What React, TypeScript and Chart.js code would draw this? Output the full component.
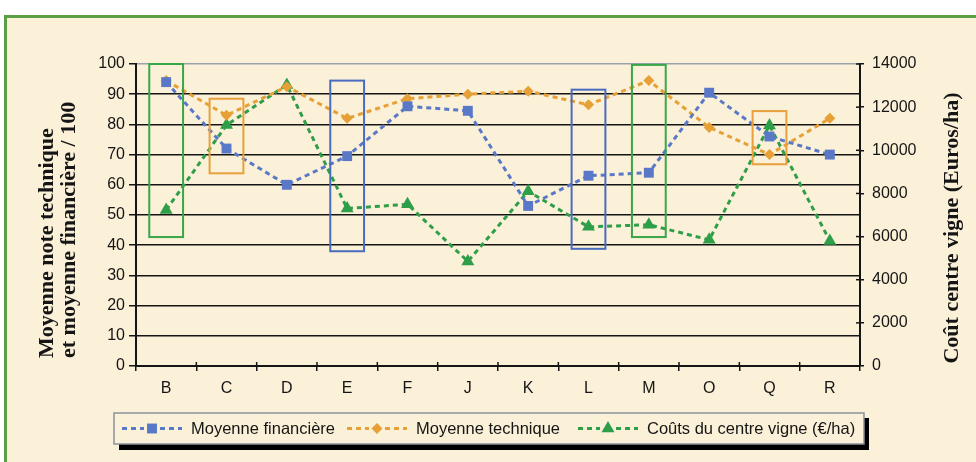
import React, { useEffect, useRef } from 'react';
import { Chart, registerables } from 'chart.js';

Chart.register(...registerables);

const categories = ['B', 'C', 'D', 'E', 'F', 'J', 'K', 'L', 'M', 'O', 'Q', 'R'];
const financiere = [94, 72, 60, 69.5, 86, 84.5, 53, 63, 64, 90.5, 76, 70];
const technique = [94.5, 83, 92.5, 82, 88.5, 90, 91, 86.5, 94.5, 79, 70, 82];
const couts = [7230, 11170, 13030, 7300, 7500, 4850, 8100, 6450, 6550, 5850, 11150, 5800];
const seriesNames = ['Moyenne financière', 'Moyenne technique', 'Coûts du centre vigne (€/ha)'];
const leftTitle = ['Moyenne note technique', 'et moyenne financière / 100'];
const rightTitle = 'Coût centre vigne (Euros/ha)';
const leftMax = 100;
const leftStep = 10;
const rightMax = 14000;
const rightStep = 2000;
// highlighted groups (category, top and bottom on the left scale)
const boxCategories = ['B', 'C', 'E', 'L', 'M', 'Q'];
const boxTop = [100, 88.5, 94.5, 91.5, 99.7, 84.4];
const boxBottom = [42.7, 63.8, 38, 38.8, 42.7, 66.8];

const BLUE = '#5a78c8';
const ORANGE = '#e6a035';
const GREEN = '#2f9e48';
const boxColors = ['#3aa64a', '#e8a03a', '#4a6cc0', '#4a6cc0', '#3aa64a', '#e8a03a'];
const CREAM = '#fbf0d8';
const INK = '#151515';
const SANS = '"Liberation Sans", Arial, sans-serif';
const SERIF = '"Liberation Serif", "Times New Roman", serif';
const legendX = [122, 347, 578];

function drawMarker(ctx: CanvasRenderingContext2D, style: string, r: number, x: number, y: number) {
  ctx.beginPath();
  if (style === 'rect') {
    const s = Math.SQRT1_2 * r;
    ctx.rect(x - s, y - s, 2 * s, 2 * s);
  } else if (style === 'rectRot') {
    ctx.moveTo(x, y - r);
    ctx.lineTo(x + r, y);
    ctx.lineTo(x, y + r);
    ctx.lineTo(x - r, y);
    ctx.closePath();
  } else {
    ctx.moveTo(x, y - r);
    ctx.lineTo(x + r * 0.866, y + r / 2);
    ctx.lineTo(x - r * 0.866, y + r / 2);
    ctx.closePath();
  }
  ctx.fill();
}

const decor = {
  id: 'decor',
  afterDatasetsDraw(chart: any) {
    const { ctx, scales } = chart;
    const x = scales.x;
    const y = scales.y;
    const cw = x.getPixelForValue(1) - x.getPixelForValue(0);
    ctx.save();
    boxCategories.forEach((c, i) => {
      const idx = categories.indexOf(c);
      const cx = x.getPixelForValue(idx);
      const top = y.getPixelForValue(boxTop[i]);
      const bot = y.getPixelForValue(boxBottom[i]);
      ctx.strokeStyle = boxColors[i];
      ctx.lineWidth = 2;
      ctx.strokeRect(cx - cw * 0.28, top, cw * 0.56, bot - top);
    });
    ctx.restore();
  },
  afterDraw(chart: any) {
    const { ctx, scales, chartArea } = chart;
    const x = scales.x;
    const y1 = scales.y1;
    const cw = x.getPixelForValue(1) - x.getPixelForValue(0);
    ctx.save();
    // crossing tick marks
    ctx.strokeStyle = INK;
    ctx.lineWidth = 1.5;
    for (let i = 0; i <= categories.length; i++) {
      const px = x.getPixelForValue(0) - cw / 2 + i * cw;
      ctx.beginPath();
      ctx.moveTo(px, chartArea.bottom - 4);
      ctx.lineTo(px, chartArea.bottom);
      ctx.stroke();
    }
    for (let v = 0; v <= rightMax; v += rightStep) {
      const py = y1.getPixelForValue(v);
      ctx.beginPath();
      ctx.moveTo(chartArea.right - 4, py);
      ctx.lineTo(chartArea.right, py);
      ctx.stroke();
    }
    // axis titles
    ctx.fillStyle = INK;
    ctx.font = 'bold 22px ' + SERIF;
    ctx.textBaseline = 'middle';
    ctx.textAlign = 'left';
    [47, 69].forEach((tx, i) => {
      ctx.save();
      ctx.translate(tx, 358);
      ctx.rotate(-Math.PI / 2);
      ctx.fillText(leftTitle[i], 0, 0);
      ctx.restore();
    });
    ctx.save();
    ctx.translate(952, 228);
    ctx.rotate(-Math.PI / 2);
    ctx.textAlign = 'center';
    ctx.fillText(rightTitle, 0, 0);
    ctx.restore();

    // legend
    const lx = 114, ly = 413, lw = 750, lh = 31;
    ctx.fillStyle = '#000';
    ctx.fillRect(lx + 5, ly + 5, lw, lh + 1);
    ctx.fillStyle = CREAM;
    ctx.fillRect(lx, ly, lw, lh);
    ctx.strokeStyle = '#8c929a';
    ctx.lineWidth = 1.5;
    ctx.strokeRect(lx, ly, lw, lh);
    ctx.font = '16.5px ' + SANS;
    ctx.textAlign = 'left';
    ctx.textBaseline = 'middle';
    const cy = ly + lh / 2;
    chart.data.datasets.forEach((ds: any, i: number) => {
      const cx = legendX[i];
      ctx.strokeStyle = ds.borderColor;
      ctx.fillStyle = ds.borderColor;
      ctx.lineWidth = 3;
      ctx.setLineDash([5, 4]);
      ctx.beginPath();
      ctx.moveTo(cx, cy);
      ctx.lineTo(cx + 22, cy);
      ctx.moveTo(cx + 38, cy);
      ctx.lineTo(cx + 60, cy);
      ctx.stroke();
      ctx.setLineDash([]);
      drawMarker(ctx, ds.pointStyle, ds.pointRadius, cx + 30, cy);
      ctx.fillStyle = INK;
      ctx.fillText(ds.label, cx + 69, cy + 1);
    });
    ctx.restore();
  },
};

export default function App() {
  const ref = useRef<HTMLCanvasElement>(null);
  useEffect(() => {
    const canvas = ref.current;
    if (!canvas) return;
    const mk = (label: string, data: number[], color: string, style: string, r: number, axis: string) => ({
      label,
      data,
      yAxisID: axis,
      borderColor: color,
      backgroundColor: color,
      pointBackgroundColor: color,
      pointBorderColor: color,
      pointBorderWidth: 0,
      borderWidth: 3,
      borderDash: [5, 4],
      pointStyle: style,
      pointRadius: r,
      tension: 0,
      fill: false,
    });
    const chart = new Chart(canvas, {
      type: 'line',
      data: {
        labels: categories,
        datasets: [
          mk(seriesNames[0], financiere, BLUE, 'rect', 7, 'y'),
          mk(seriesNames[1], technique, ORANGE, 'rectRot', 5.5, 'y'),
          mk(seriesNames[2], couts, GREEN, 'triangle', 7.5, 'y1'),
        ] as any,
      },
      options: {
        responsive: false,
        animation: false,
        layout: { padding: { top: 64, left: 0, right: 0, bottom: 0 } },
        plugins: { legend: { display: false }, tooltip: { enabled: false } },
        scales: {
          x: {
            offset: true,
            grid: { offset: true, drawOnChartArea: false, color: INK, tickLength: 5, lineWidth: 1.5 },
            border: { color: INK, width: 2 },
            ticks: { font: { family: SANS, size: 16 }, color: INK, padding: 8 },
            afterFit: (s: any) => { s.height = 96; },
          },
          y: {
            position: 'left',
            min: 0,
            max: leftMax,
            ticks: { stepSize: leftStep, font: { family: SANS, size: 16 }, color: INK, padding: 4 },
            grid: {
              color: (c: any) => (c.tick && c.tick.value === leftMax ? '#9aa2ac' : INK),
              tickColor: INK,
              lineWidth: 1.5,
              tickLength: 7,
            },
            border: { color: INK, width: 2 },
            afterFit: (s: any) => { s.width = 136; },
          },
          y1: {
            position: 'right',
            min: 0,
            max: rightMax,
            ticks: {
              stepSize: rightStep,
              font: { family: SANS, size: 16 },
              color: INK,
              padding: 8,
              callback: (v: any) => String(v),
            },
            grid: { drawOnChartArea: false, color: INK, tickLength: 4, lineWidth: 1.5 },
            border: { color: INK, width: 2 },
            afterFit: (s: any) => { s.width = 116; },
          },
        },
      } as any,
      plugins: [decor],
    });
    return () => chart.destroy();
  }, []);

  return (
    <div style={{ position: 'absolute', left: 0, top: 0, width: 976, height: 462, background: '#fff', overflow: 'hidden' }}>
      <div
        style={{
          position: 'absolute',
          left: 4,
          top: 15,
          width: 1000,
          height: 500,
          border: '3px solid #5a9f46',
          background: CREAM,
        }}
      />
      <canvas ref={ref} width={976} height={462} style={{ position: 'absolute', left: 0, top: 0, width: 976, height: 462 }} />
    </div>
  );
}
